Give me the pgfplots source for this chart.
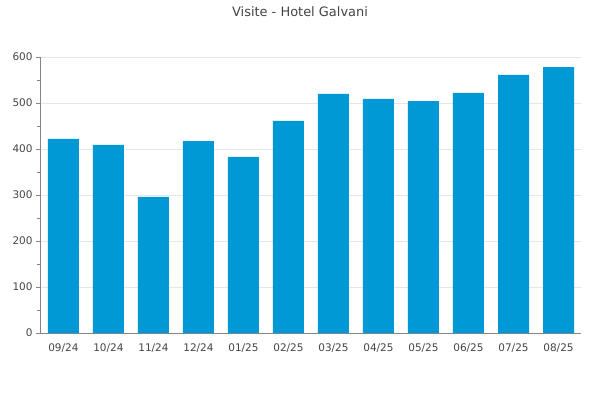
\documentclass[border=0pt]{standalone}
\usepackage{fontspec}
\setmainfont{DejaVu Sans}
\usepackage{pgfplots}
\pgfplotsset{compat=1.18}
\definecolor{barblue}{HTML}{0098D5}
\definecolor{gridgray}{HTML}{E6E6E6}
\definecolor{axisgray}{HTML}{858585}
\definecolor{textgray}{HTML}{444444}
\begin{document}
\begin{tikzpicture}[x=1bp,y=1bp]
\path[use as bounding box] (0,0) rectangle (600,400);
\node[text=textgray, font=\fontsize{13}{15}\selectfont] at (300,388) {Visite - Hotel Galvani};
\begin{axis}[
    at={(40bp,67bp)}, anchor=south west,
    scale only axis, width=541bp, height=276bp,
    xmin=-0.52, xmax=11.5, ymin=0, ymax=600,
    axis x line*=bottom, axis y line*=left,
    axis line style={axisgray},
    ybar, bar width=31bp,
    xtick={0,...,11},
    xticklabels={09/24,10/24,11/24,12/24,01/25,02/25,03/25,04/25,05/25,06/25,07/25,08/25},
    major x tick style={draw=none},
    xticklabel style={yshift=-3bp},
    ytick={0,100,...,600}, minor y tick num=1,
    tick align=outside, major tick length=4bp, minor tick length=3bp,
    tick style={axisgray},
    ymajorgrids, grid style={gridgray},
    ticklabel style={font=\fontsize{10.5}{12}\selectfont, text=textgray},
    /pgf/number format/assume math mode=true,
]
\addplot[fill=barblue, draw=none] coordinates {
    (0,422) (1,409) (2,296) (3,417) (4,383) (5,461)
    (6,520) (7,509) (8,504) (9,522) (10,561) (11,578)
};
\end{axis}
\end{tikzpicture}
\end{document}
